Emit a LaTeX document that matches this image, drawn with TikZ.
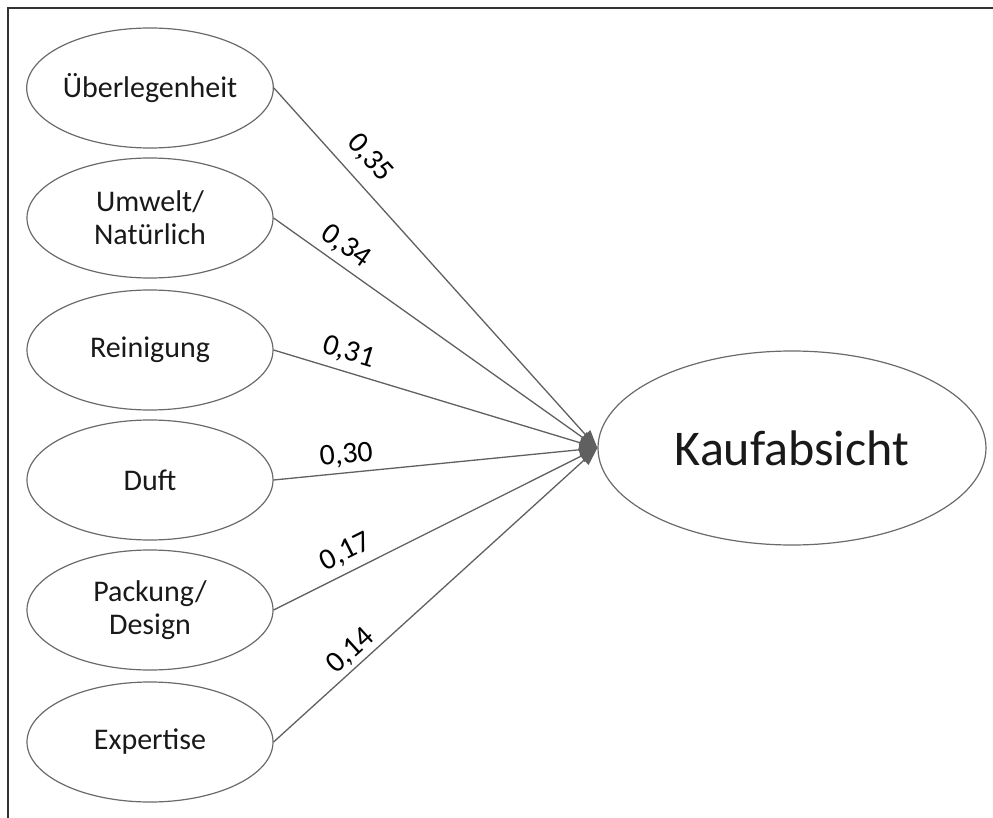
\documentclass[tikz,border=0pt]{standalone}
\usepackage{fontspec}
\setmainfont{Carlito}
\usetikzlibrary{arrows.meta,shapes.geometric}
\definecolor{edgegray}{HTML}{606060}
\definecolor{rimgray}{HTML}{6A6A6A}
\definecolor{framegray}{HTML}{333333}
\begin{document}
\begin{tikzpicture}[x=1pt,y=-1pt,
  factor/.style={ellipse, draw=rimgray, line width=1.2pt, inner sep=0pt,
    minimum width=246pt, minimum height=120pt, align=center,
    font=\fontsize{30}{33}\selectfont, text=black!90},
  target/.style={ellipse, draw=rimgray, line width=1.2pt, inner sep=0pt,
    minimum width=388pt, minimum height=194pt,
    font=\fontsize{50}{58}\selectfont, text=black!90},
  path/.style={draw=edgegray, line width=1.3pt,
    -{Triangle[length=18pt,width=13pt]}},
  weight/.style={sloped, inner sep=0pt, font=\fontsize{30}{34}\selectfont}
]
\useasboundingbox (0,0) rectangle (993,818);
% frame (top and left edges)
\draw[framegray, line width=2.4pt] (993,8) -- (8,8) -- (8,818);

% predictors
\node[factor] (ub) at (150,88)  {Überlegenheit};
\node[factor] (um) at (150,218) {Umwelt/\\Natürlich};
\node[factor] (re) at (150,350) {Reinigung};
\node[factor] (du) at (150,480) {Duft};
\node[factor] (pa) at (150,610) {Packung/\\Design};
\node[factor] (ex) at (150,742) {Expertise};

% outcome
\node[target] (ka) at (792,448) {Kaufabsicht};

% path coefficients
\draw[path] (ub.east) -- node[weight, pos=0.24, above=12pt] {0,35} (ka.west);
\draw[path] (um.east) -- node[weight, pos=0.19, above=6pt] {0,34} (ka.west);
\draw[path] (re.east) -- node[weight, pos=0.215, above=7pt] {0,31} (ka.west);
\draw[path] (du.east) -- node[weight, pos=0.23, above=5pt] {0,30} (ka.west);
\draw[path] (pa.east) -- node[weight, pos=0.25, above=7pt] {0,17} (ka.west);
\draw[path] (ex.east) -- node[weight, pos=0.27, above=3pt] {0,14} (ka.west);
\end{tikzpicture}
\end{document}
